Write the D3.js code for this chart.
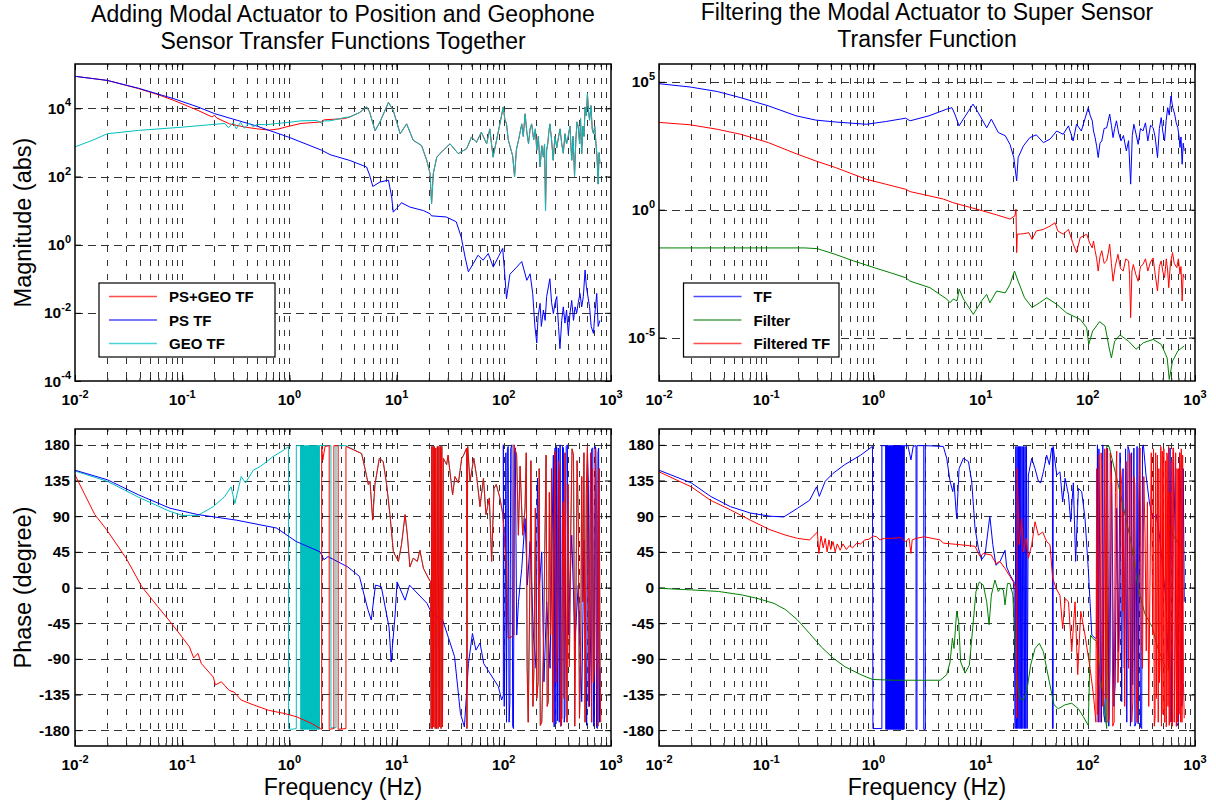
<!DOCTYPE html>
<html>
<head>
<meta charset="utf-8">
<script src="https://cdnjs.cloudflare.com/ajax/libs/d3/7.8.5/d3.min.js"></script>
<style>
  body { margin: 0; background: #fff; }
  text { font-family: "Liberation Sans", Arial, sans-serif; fill: #000; }
</style>
</head>
<body>
<svg id="chart" width="1216" height="805"></svg>
<script>
// ---- axis ticks ----
const freqTicks = [0.01, 0.1, 1, 10, 100, 1000];
const magTicksLeft = [1e-4, 1e-2, 1, 1e2, 1e4];
const magTicksRight = [1e-5, 1, 1e5];
const phaseTicks = [-180, -135, -90, -45, 0, 45, 90, 135, 180];

// ---- top left: magnitude ----
const psF = [0.01,0.02,0.039,0.084,0.14,0.2,0.5,1,2,2.4,3.67,5.25,5.6,6.0,7.0,8.4,9.0,9.3,10,11.1,13.3,17.8,20.5,21.2,29,36,40,43.5,46.7,52,57.5,64,71.6,79.8,89,97.7,102.6,106,114,132,147,164,176,186,195,203,209,218,224,234,243,251,269,279,290,301,312,324,334,347,359,372,385,400,415,430,447,462,479,495,514,533,552,573,589,603,631,653,686,708,736,759,789];
const psM = [8.7e4,6.6e4,3.9e4,1.9e4,1.1e4,7e3,3.0e3,1.4e3,590,436,295,190,110,51,69,78,25,9,11.5,17,12.7,10,8.1,7,6.5,4.7,1.7,0.44,0.16,0.28,0.49,0.35,0.55,0.22,0.44,0.78,0.11,0.026,0.135,0.22,0.32,0.09,0.14,0.037,0.004,0.0013,0.008,0.019,0.004,0.012,0.006,0.03,0.1,0.02,0.0095,0.02,0.03,0.004,0.00089,0.006,0.015,0.005,0.012,0.0023,0.01,0.023,0.006,0.015,0.01,0.02,0.037,0.015,0.03,0.18,0.06,0.037,0.015,0.004,0.0025,0.01,0.037,0.004,0.006];

const geoF = [0.01,0.015,0.02,0.039,0.1,0.2,0.25,0.27,0.3,0.32,0.35,0.38,0.42,0.46,0.5,0.6,0.77,1.0,1.28,1.8,2.0,2.1,2.4,3.3,3.67,4.5,5.26,5.6,6.3,7.0,8.4,9.3,10.8,12.4,14.3,17.1,19.1,20.5,21.2,22,23.7,27.3,31.5,37.6,45.1,50,55.6,61.7,69.2,74,79.4,88.7,98.9,
  102,106,110,117,121,126,131,137,142,147,152,158,164,170,176,182,190,197,203,210,218,226,234,240,245,251,257,263,269,279,289,300,312,324,335,347,359,372,385,398,414,430,443,457,470,482,495,510,520,533,548,560,573,588,603,617,631,650,668,686,705,724,740,759,775,789];
const geoM = [740,1.2e3,1.8e3,2.25e3,2.8e3,3.4e3,3.6e3,2.7e3,3.8e3,2.5e3,3.9e3,2.6e3,3.7e3,2.9e3,3.4e3,3.3e3,3.6e3,3.9e3,4.3e3,4.4e3,3.7e3,4.3e3,4.3e3,5.4e3,5.6e3,7.5e3,1.1e4,7.8e3,2.2e3,4e3,1.5e4,8.7e3,1.8e3,3.5e3,1.15e3,810,300,123,16,123,370,590,910,470,660,1.45e3,1.0e3,2e3,910,2.5e3,370,2e3,1.1e4,
  5e3,3.5e3,1.2e3,590,400,98,600,1.15e3,2e3,3.5e3,1.5e3,6.9e3,2e3,910,2.5e3,3.5e3,1.2e3,2.5e3,590,1.5e3,190,800,370,900,10,600,910,2e3,3.5e3,1.2e3,300,1.5e3,700,1.45e3,2.5e3,900,480,1.8e3,900,1.45e3,3e3,300,1.5e3,100,1.2e3,4e3,2.8e3,900,5e3,470,3e3,1.5e3,1.1e4,6e3,2.7e4,8e3,4.5e3,1.2e4,2.5e3,1.8e3,3e3,910,400,60,500,240];

// PS+GEO: own values below ~3.5 Hz, lies on top of GEO TF above that
const sumLowF = [0.01,0.02,0.039,0.06,0.084,0.14,0.19,0.2,0.21,0.277,0.39,0.5,0.65,0.8,0.91,1.28,2.0,2.1,3.27];
const sumLowM = [8.7e4,6.6e4,3.8e4,2.5e4,1.7e4,8.7e3,5.6e3,6.3e3,5.2e3,3.5e3,2.8e3,2.5e3,2.3e3,2.5e3,2.8e3,3.6e3,4.0e3,4.6e3,5.0e3];

// ---- top right: magnitude ----
const tfF = [0.01,0.0195,0.035,0.058,0.105,0.19,0.29,0.44,0.86,1.3,2.0,2.2,3.3,4.8,5.4,5.75,6.3,6.9,8.5,9.5,11.4,12.6,14.6,17,18.8,20.4,21.7,22.4,25.1,28.8,33.1,38.5,44.4,51.3,58.9,66,73,78.5,87,101,
  105,110,113,117,121,125,130,135,142,150,155,160,166,172,178,185,194,204,215,229,240,251,260,269,282,295,310,327,345,363,385,407,425,447,465,484,500,520,538,556,575,597,620,646,668,692,708,724,740,759,776,794];
const tfM = [8.5e4,6.3e4,4.2e4,2.4e4,1.15e4,4.7e3,3.2e3,2.7e3,2.2e3,2.8e3,3.8e3,3.0e3,4.7e3,8.5e3,9.8e3,5.5e3,1.9e3,3.5e3,1.35e4,6.3e3,1.6e3,3.5e3,1.05e3,780,360,110,13.5,110,316,660,850,420,575,1.2e3,890,1.9e3,490,2.2e3,1.2e3,9.8e3,
  5e3,3e3,1.2e3,660,300,110,400,490,1.5e3,1.6e3,3e3,5.5e3,2e3,660,1.5e3,3e3,1e3,490,800,200,500,10,800,2.2e3,900,360,1.5e3,1.2e3,2.5e3,490,2e3,1.6e3,700,110,1.5e3,4e3,1.2e3,490,3e3,9.8e3,5e3,2.8e4,1e4,5.5e3,2.5e3,1.6e3,800,270,700,60,400,200];

const filtF = [0.01,0.23,0.3,0.44,0.65,1.02,1.45,2.0,2.2,3.37,4.83,5.19,5.56,6.03,6.31,6.92,8.55,10.2,11.4,12.2,14.1,17,18.8,20.7,22.4,25.7,30.2,35.5,41.4,51.3,63.1,85,97.7,102,111,129,145,158,166,178,200,240,282,331,407,484,550,575,617,692,794];
const filtM = [0.032,0.032,0.03,0.018,0.010,0.0054,3.4e-3,2.2e-3,1.6e-3,8.9e-4,3.2e-4,2.3e-4,3.2e-4,2.7e-4,7.8e-4,3.2e-4,8.1e-5,2.7e-4,4.9e-4,2.3e-4,6.6e-4,5.6e-4,1.2e-3,4e-3,1.6e-3,3.6e-4,1.5e-4,2.3e-4,3.6e-4,2e-4,9.3e-5,5.1e-5,2.4e-5,5.4e-6,1.8e-5,4.2e-5,2.8e-5,4e-6,1.6e-6,7.2e-6,1.26e-5,7.2e-6,3.5e-6,6.3e-6,8.5e-6,5.4e-6,1.6e-6,2.3e-7,1.2e-6,3e-6,4.7e-6];

const ftF = [0.01,0.0195,0.035,0.058,0.105,0.19,0.29,0.44,0.86,1.3,2.0,2.2,3.3,4.5,5.5,9.2,14.1,18.8,20.9,21.4,21.7,22,25.1,28.2,30.2,33.1,38.5,44.4,49.5,52.5,58.9,66,72.4,78.5,85,97.7,
  104,110,113,117,121,125,130,135,142,150,155,160,166,172,180,191,202,214,226,240,245,251,258,266,280,295,310,327,345,363,385,407,425,447,465,484,500,520,540,556,569,590,617,640,676,700,724,740,759,776,794];
const ftM = [2.6e3,2.1e3,1.4e3,890,420,155,81,45,15.5,10,6.3,5.1,3.5,2.6,1.9,1.05,0.63,0.43,0.58,1.05,0.021,0.11,0.115,0.126,0.069,0.148,0.17,0.23,0.31,0.148,0.11,0.17,0.051,0.021,0.081,0.11,
  0.05,0.032,0.06,0.025,0.012,0.004,0.015,0.025,0.008,0.01,0.02,0.045,0.008,0.0016,0.006,0.018,0.005,0.004,0.012,0.01,0.003,6e-5,0.004,0.0072,0.003,0.0016,0.006,0.0072,0.012,0.004,0.009,0.013,0.003,6.6e-4,0.006,0.01,0.004,0.0022,0.012,0.004,8.9e-4,0.008,0.021,0.008,0.0054,0.012,0.003,0.006,2.7e-4,0.003,0.0022];

// ---- bottom left: phase (deg) ----
const psPhF = [0.01,0.02,0.039,0.077,0.14,0.32,0.76,1.16,1.93,2.1,2.29,3.5,4.5,5.4,5.8,6.35,7.2,8.5,8.9,9.7,10.1,12,13.2,19.2,20.5,22.7,26.9,34.7,39.4,42.9,46.8,51,55,60,65,74,89,95.5,99,99,
  101,103,104.5,106,108,110,112,114,116,119,121,123,125.5,128,132,137,147,158,166,176,189,200,206,215,226,237,251,270,
  290,295,301,306,311,317,323,329,335,341,347,353,360,366,372,382,392,400,409,430,461,495,533,560,593,604,615,630,646,660,676,688,700,710,720,733,746,756,767,779,791];
const psPh = [148,136,117,100,92,85,75,58,45,35,39,26,14,-28,-41,3,1,-50,-94,-33,7,-16,3,-20,-28,-35,-41,-87,-159,-176,-96,-58,-79,-70,-96,-108,-125,-142,-136,180,
  -150,-26,170,-170,175,178,-170,-144,175,180,-175,-178,170,176,-60,-18,24,87,3,58,-60,-102,138,3,45,-119,-18,-102,
  167,-176,176,-172,178,-168,176,-170,180,-175,-165,178,176,-170,-161,178,180,-60,-18,66,-68,3,-144,60,-174,170,130,-150,-60,175,176,-175,-170,178,176,-176,-178,170,176,-170,-102];

const sumPhF = [0.01,0.0153,0.0197,0.03,0.042,0.059,0.077,0.099,0.117,0.128,0.14,0.151,0.195,0.204,0.232,0.275,0.305,0.355,0.46,0.64,0.9,1.16,1.64,1.94,2.0,2.0,2.05,2.15,2.35,2.35,2.6,2.6,2.85,2.85,3.37,3.37,4.72,5.07,5.45,5.65,5.98,6.28,6.9,7.5,8.07,8.67,9.33,10.4,11.1,12,12.6,13.3,14.3,15.6,16.5,17.8,19.8,20.8,21.0,21.3,21.6,21.9,22.2,22.5,22.9,23.2,23.6,24.0,24.4,24.8,25.2,25.6,26.0,26.4,26.8,27.3,29.3,30.2,33.3,35,37.7,40.5,42.2,45,45.3,46,48.4,52.5,55.8,60,64.6,68.2,73.3,77,81,85,92,98,106,110,118.6,124,124.5,131.8,136.8,
  141.9,150,157.8,162,165,169,176,179,183,187,191,197,203,209,214,219,226,234,
  248,254,260,266,273,279,286,293,300,308,316,323,330,338,347,353,359,366,372,380,389,398,409,421,433,447,459,472,483,495,508,521,533,545,559,573,588,603,617,631,646,660,670,685,700,718,735,755,776,790,802];
const sumPh = [142,92,73,37,1,-24,-43,-62,-75,-89,-83,-96,-113,-123,-119,-130,-132,-142,-148,-155,-159,-163,-172,-178,-179,178,161,178,179,-179,-178,179,179,-179,-178,178,169,150,130,134,85,130,163,159,130,92,45,33,54,92,66,26,37,33,47,24,12,7,-178,178,-178,178,-176,178,-178,176,-178,178,-178,178,-176,178,-178,178,-176,163,155,167,117,140,132,163,167,176,-178,178,134,163,140,102,138,92,113,33,125,130,113,92,24,-64,-62,-60,180,167,66,
  153,66,100,170,-100,-170,33,160,-31,-150,-102,100,-140,-119,150,-174,-170,-81,
  167,-150,-144,120,-60,150,-170,60,172,-120,-81,160,142,-175,-165,90,108,-140,170,-18,-170,130,-100,66,175,167,-175,3,160,87,-165,-102,140,-18,170,-170,120,178,-150,24,170,-170,150,-120,-102,175,87,-175,150,-100,-170];

// GEO phase: own values up to 3.37 Hz, lies under PS+GEO above that
const geoPhF = [0.01,0.02,0.039,0.077,0.1,0.14,0.195,0.25,0.286,0.31,0.355,0.39,0.46,0.54,0.7,0.9,0.98,0.98,1.05,1.16,1.16,1.27,
  1.28,1.29,1.30,1.31,1.32,1.33,1.34,1.35,1.36,1.37,1.38,1.39,1.40,1.41,1.42,1.43,1.44,1.45,1.46,1.47,1.48,1.49,1.50,1.51,1.52,1.53,1.54,1.55,1.56,1.57,1.58,1.59,1.60,1.61,1.62,1.63,1.64,1.65,1.66,1.67,1.68,1.69,1.70,1.71,1.72,1.73,1.74,1.75,1.76,1.77,1.78,1.79,1.80,1.81,1.82,1.83,1.84,1.85,1.86,1.87,1.88,1.89,1.90,
  1.9,2.44,2.44,2.72,2.72,3.37];
const geoPh = [147,134,114,96,91,91,102,115,127,106,140,132,148,153,165,174,178,-178,-179,-178,179,179,
  -179,179,-179,179,-179,179,-179,179,-179,179,-179,179,-179,179,-179,179,-179,179,-179,179,-179,179,-179,179,-179,179,-179,179,-179,179,-179,179,-179,179,-179,179,-179,179,-179,179,-179,179,-179,179,-179,179,-179,179,-179,179,-179,179,-179,179,-179,179,-179,179,-179,179,-179,179,-179,
  179,179,-177,-177,179,179];

// ---- bottom right: phase (deg) ----
const tfPhF = [0.01,0.02,0.0303,0.0464,0.071,0.108,0.146,0.196,0.254,0.295,0.313,0.355,0.42,0.54,0.76,0.98,0.99,1.2,1.2,1.3,
  1.31,1.32,1.33,1.34,1.35,1.36,1.37,1.38,1.39,1.40,1.41,1.42,1.43,1.44,1.45,1.46,1.47,1.48,1.49,1.50,1.51,1.52,1.53,1.54,1.55,1.56,1.57,1.58,1.59,1.60,1.61,1.62,1.63,1.64,1.65,1.66,1.67,1.68,1.69,1.70,1.71,1.72,1.73,1.74,1.75,1.76,1.77,1.78,1.79,1.80,1.81,1.82,1.83,1.84,1.85,1.86,1.87,1.88,1.89,1.90,1.91,1.92,1.93,1.94,
  2.1,2.24,2.35,2.5,2.5,2.55,2.55,2.95,2.95,3.05,3.05,4.49,4.83,5.19,5.5,5.65,5.98,6.3,6.9,7.7,8.26,8.87,9.53,10.2,11,11.8,12.2,13,13.9,15.2,16.9,17.5,18.8,20.5,21,21.3,21.6,21.9,22.2,22.5,22.8,23.1,23.4,23.7,24,24.4,24.8,25.2,25.6,26,26.4,26.8,27.2,27.9,30,32.2,34.6,36.3,38.5,41.3,43.8,46,46.8,46.8,47.5,47.5,51.3,55,58.3,61.4,66,69.2,73.3,77,81.7,87.7,94.2,101,109,117,
  121,123,125,127,130,134,138,141,145,149,153,157,161,166,171,175,180,186,193,200,207,213,219,225,231,237,244,250,256,262,269,275,282,288,295,302,310,318,324,330,349,375,404,434,466,501,537,565,585,607,630,652,675,700,718,736,756,776,794];
const tfPh = [148,132,115,102,94,90,89,100,110,127,115,134,144,155,167,178,-178,-178,179,179,
  -179,179,-179,179,-179,179,-179,179,-179,179,-179,179,-179,179,-179,179,-179,179,-179,179,-179,179,-179,179,-179,179,-179,179,-179,179,-179,179,-179,179,-179,179,-179,179,-179,179,-179,179,-179,179,-179,179,-179,179,-179,179,-179,179,-179,179,-179,179,-179,179,-179,179,-179,179,-179,179,
  179,161,178,179,-179,-179,179,179,-179,-179,179,178,163,134,121,132,87,150,163,159,134,75,50,35,41,75,90,54,28,33,47,26,16,7,-178,178,-178,178,-178,178,-178,178,-178,178,-178,178,-178,178,-178,178,-178,178,-178,142,163,150,134,132,146,167,155,176,176,-178,-178,178,142,146,108,138,117,83,132,33,125,121,87,24,-60,-64,
  -64,180,-170,175,-18,-170,180,-160,-170,170,176,-175,-102,160,3,-150,-123,100,-81,170,-144,150,-102,175,-170,178,172,-175,170,-123,176,-175,-170,178,-172,176,-176,-178,178,180,142,108,87,92,66,24,-18,-102,176,-170,170,66,-175,-170,170,108,-150,150,-18];

const filtPhF = [0.01,0.02,0.036,0.06,0.084,0.118,0.152,0.196,0.254,0.327,0.42,0.543,0.764,0.98,1.5,4.2,4.83,5.19,5.46,5.65,5.98,6.24,6.52,7.16,7.85,8.43,9.06,9.73,10.6,11.4,12,12.6,13.6,14.6,15.4,16.3,16.9,17.8,18.8,20,20.9,22,23.3,25.1,26.9,29.3,32.2,35.3,38.5,41.3,44.4,48.4,53,61.4,70.8,81.7,90.8,101,106,111,121,130,141,150,150,158,200,251,295,340,400,447,525,570,575,630,708,794];
const filtPh = [-1,-3,-5,-9.5,-14,-20,-28,-41,-58,-75,-89,-100,-110,-116,-117,-117,-110,-94,-64,-77,-30,-43,-94,-108,-98,-52,-5,7,3,-18,-47,-9.5,9.5,-5,-1,-3,-22,5,5,-9.5,-68,-123,-140,-142,-132,-98,-77,-70.5,-81,-102,-123,-148,-153,-148,-146,-153,-163,-174,-60,-64,-68,-110,-144,-178,178,178,120,60,0,-33,-50,-75,-100,-105,80,65,55,45];

const ftPhF = [0.01,0.02,0.0303,0.0464,0.071,0.108,0.152,0.196,0.254,0.3,0.31,0.325,0.34,0.355,0.37,0.385,0.4,0.42,0.44,0.46,0.49,0.52,0.56,0.6,0.64,0.7,0.76,0.83,0.91,1.0,1.07,1.15,1.27,1.5,1.79,2.0,2.15,2.24,2.3,2.5,2.98,4.2,4.49,6.43,8.87,9.9,10.6,12.6,13.9,15.1,16.9,18.8,20.2,21.4,21.7,22,22.9,24.2,25.1,26.6,27.9,30,32.2,34.6,38,41.3,44.4,47,50.5,55,58.3,61.4,66,70.8,76,80.5,86,94.2,105,113,
  119,121,123,126,128,130,133,135,138,141,144,147,150,154,158,162,167,171,176,181,186,191,197,202,207,211,215,221,228,234,240,245,251,257,263,269,275,282,290,298,307,315,324,333,342,351,360,370,380,391,403,410,417,424,430,437,447,454,460,466,472,480,487,495,503,512,518,525,533,540,546,552,560,567,575,582,590,599,607,614,622,631,640,650,660,670,680,690,700,711,722,736,745,756,767,780,794];
const ftPh = [146,127,110,98,85,73,66,62,60,70,43,65,50,62,45,60,48,58,45,55,47,55,48,53,50,56,55,60,61,65,64,60,62,62,63,58,62,43,60,62,64,60,56,54,52,39,43,41,30,33,24,14,7,-1,-165,150,54,87,45,62,37,54,83,66,70,58,54,12,-1,-10,-52,-14,-18,-81,-18,-110,-30,-60,-102,-136,
  -170,150,-160,167,-120,-170,170,159,-150,-102,175,-140,176,-170,-165,170,130,-175,-170,120,172,-120,-60,150,130,-30,96,-150,159,20,-102,170,167,-170,-144,140,130,-120,-170,100,176,-60,-102,140,66,-80,108,-150,3,170,-60,175,-175,-165,170,-140,167,-170,150,-120,-94,178,-175,172,-160,175,-170,-170,160,-176,170,167,-150,178,-174,120,-170,-18,160,-175,176,176,-170,-60,170,-175,150,-170,150,-160,170,-170,175,-170,167,-120,-165];

const RED = '#ff0000', BLUE = '#0000ff', CYAN = '#00bfbf', GREEN = '#008000';

const sumPairs = d3.zip(sumLowF, sumLowM).concat(d3.zip(geoF, geoM).filter(d => d[0] >= 3.67));
const geoPhPairs = d3.zip(geoPhF, geoPh).concat(d3.zip(sumPhF, sumPh).filter(d => d[0] > 3.37));

const panels = [
  { left: 75, right: 611, top: 64, bottom: 381, log: true, yDomain: [1e-4, 2e5], yTicks: magTicksLeft,
    xLabelY: 405, title: ['Adding Modal Actuator to Position and Geophone', 'Sensor Transfer Functions Together'],
    titleY: [22, 49], ylabel: 'Magnitude (abs)',
    series: [
      { data: sumPairs, color: RED },
      { data: d3.zip(psF, psM), color: BLUE },
      { data: d3.zip(geoF, geoM), color: CYAN }
    ],
    legend: { x: 99, y: 283, w: 176, h: 74, names: ['PS+GEO TF', 'PS TF', 'GEO TF'], colors: [RED, BLUE, CYAN] } },
  { left: 659, right: 1195, top: 64, bottom: 381, log: true, yDomain: [2e-7, 5e5], yTicks: magTicksRight,
    xLabelY: 405, title: ['Filtering the Modal Actuator to Super Sensor', 'Transfer Function'],
    titleY: [20, 46.5],
    series: [
      { data: d3.zip(tfF, tfM), color: BLUE },
      { data: d3.zip(filtF, filtM), color: GREEN },
      { data: d3.zip(ftF, ftM), color: RED }
    ],
    legend: { x: 683.5, y: 283, w: 155.5, h: 74, names: ['TF', 'Filter', 'Filtered TF'], colors: [BLUE, GREEN, RED] } },
  { left: 75, right: 611, top: 429, bottom: 746, log: false, yDomain: [-200, 200], yTicks: phaseTicks,
    xLabelY: 770, ylabel: 'Phase (degree)', xlabel: 'Frequency (Hz)',
    series: [
      { data: geoPhPairs, color: CYAN },
      { data: d3.zip(psPhF, psPh), color: BLUE },
      { data: d3.zip(sumPhF, sumPh), color: RED }
    ] },
  { left: 659, right: 1195, top: 429, bottom: 746, log: false, yDomain: [-200, 200], yTicks: phaseTicks,
    xLabelY: 770, xlabel: 'Frequency (Hz)',
    series: [
      { data: d3.zip(tfPhF, tfPh), color: BLUE },
      { data: d3.zip(filtPhF, filtPh), color: GREEN },
      { data: d3.zip(ftPhF, ftPh), color: RED }
    ] }
];

const svg = d3.select('#chart');
svg.append('rect').attr('width', 1216).attr('height', 805).attr('fill', '#fff');

function powerLabel(g, v, x, y, anchor) {
  const t = g.append('text').attr('x', x).attr('y', y).attr('text-anchor', anchor)
    .attr('font-size', 15.5).attr('font-weight', 'bold');
  t.append('tspan').text('10');
  t.append('tspan').attr('dy', -7.5).attr('font-size', 11).text(Math.round(Math.log10(v)));
}

panels.forEach((p, i) => {
  const g = svg.append('g');
  const x = d3.scaleLog().domain([0.01, 1000]).range([p.left, p.right]);
  const y = (p.log ? d3.scaleLog() : d3.scaleLinear()).domain(p.yDomain).range([p.bottom, p.top]);

  const minor = [];
  for (let e = -2; e < 3; e++) for (let k = 1; k < 10; k++) minor.push(k * Math.pow(10, e));

  // grid
  g.append('g').selectAll('line').data(minor.filter(v => v > 0.0101)).enter().append('line')
    .attr('x1', d => Math.round(x(d)) + 0.5).attr('x2', d => Math.round(x(d)) + 0.5)
    .attr('y1', p.top).attr('y2', p.bottom)
    .attr('stroke', '#333').attr('stroke-dasharray', '6,8');
  g.append('g').selectAll('line').data(p.yTicks.filter(v => v !== p.yDomain[0] && v !== p.yDomain[1])).enter().append('line')
    .attr('x1', p.left).attr('x2', p.right)
    .attr('y1', d => Math.round(y(d)) + 0.5).attr('y2', d => Math.round(y(d)) + 0.5)
    .attr('stroke', '#333').attr('stroke-dasharray', '8,5');

  // inward ticks on all four sides
  const noDomain = a => a.select('.domain').remove();
  g.append('g').attr('transform', `translate(0,${p.bottom})`)
    .call(d3.axisBottom(x).tickValues(minor).tickSize(-3).tickFormat('')).call(noDomain);
  g.append('g').attr('transform', `translate(0,${p.bottom})`)
    .call(d3.axisBottom(x).tickValues(freqTicks).tickSize(-6).tickFormat('')).call(noDomain);
  g.append('g').attr('transform', `translate(0,${p.top})`)
    .call(d3.axisTop(x).tickValues(minor).tickSize(-3).tickFormat('')).call(noDomain);
  g.append('g').attr('transform', `translate(0,${p.top})`)
    .call(d3.axisTop(x).tickValues(freqTicks).tickSize(-6).tickFormat('')).call(noDomain);
  g.append('g').attr('transform', `translate(${p.left},0)`)
    .call(d3.axisLeft(y).tickValues(p.yTicks).tickSize(-6).tickFormat('')).call(noDomain);
  g.append('g').attr('transform', `translate(${p.right},0)`)
    .call(d3.axisRight(y).tickValues(p.yTicks).tickSize(-6).tickFormat('')).call(noDomain);

  // curves
  const clipId = 'clip' + i;
  svg.append('clipPath').attr('id', clipId).append('rect')
    .attr('x', p.left).attr('y', p.top).attr('width', p.right - p.left).attr('height', p.bottom - p.top);
  const line = d3.line().x(d => x(d[0])).y(d => y(d[1]));
  const lg = g.append('g').attr('clip-path', `url(#${clipId})`);
  p.series.forEach(s => {
    lg.append('path').datum(s.data).attr('d', line)
      .attr('fill', 'none').attr('stroke', s.color).attr('stroke-width', 1)
      .attr('stroke-linejoin', 'round');
  });

  // box
  g.append('rect').attr('x', p.left).attr('y', p.top)
    .attr('width', p.right - p.left).attr('height', p.bottom - p.top)
    .attr('fill', 'none').attr('stroke', '#000').attr('stroke-width', 1.5);

  // tick labels
  freqTicks.forEach(v => powerLabel(g, v, x(v), p.xLabelY, 'middle'));
  p.yTicks.forEach(v => {
    if (p.log) powerLabel(g, v, p.left - 4, y(v) + 5.5, 'end');
    else g.append('text').attr('x', p.left - 5).attr('y', y(v) + 5.5).attr('text-anchor', 'end')
      .attr('font-size', 15.5).attr('font-weight', 'bold').text(v);
  });

  // legend
  if (p.legend) {
    const L = p.legend;
    const lgd = g.append('g');
    lgd.append('rect').attr('x', L.x).attr('y', L.y).attr('width', L.w).attr('height', L.h)
      .attr('fill', '#fff').attr('stroke', '#000').attr('stroke-width', 1.2);
    L.names.forEach((n, k) => {
      const yy = L.y + 13.5 + k * 23.5;
      lgd.append('line').attr('x1', L.x + 10).attr('x2', L.x + 58).attr('y1', yy).attr('y2', yy)
        .attr('stroke', L.colors[k]).attr('stroke-width', 1.5).attr('stroke-opacity', 0.7);
      lgd.append('text').attr('x', L.x + 70).attr('y', yy + 5.5)
        .attr('font-size', 15).attr('font-weight', 'bold').text(n);
    });
  }

  // titles and axis labels
  const cx = (p.left + p.right) / 2;
  if (p.title) p.title.forEach((t, k) => {
    g.append('text').attr('x', cx).attr('y', p.titleY[k]).attr('text-anchor', 'middle')
      .attr('font-size', 23).text(t);
  });
  if (p.ylabel) g.append('text')
    .attr('transform', `translate(31,${(p.top + p.bottom) / 2}) rotate(-90)`)
    .attr('text-anchor', 'middle').attr('font-size', 23.5).text(p.ylabel);
  if (p.xlabel) g.append('text').attr('x', cx).attr('y', 795).attr('text-anchor', 'middle')
    .attr('font-size', 23).text(p.xlabel);
});
</script>
</body>
</html>
